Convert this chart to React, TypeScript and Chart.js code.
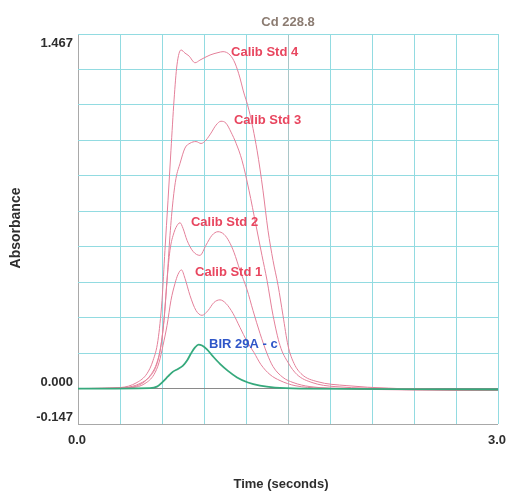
import React, { useEffect, useRef } from "react";
import { Chart, registerables } from "chart.js";

Chart.register(...registerables);

// ---- Data (time in seconds, absorbance) ----
const std4Time = [0, 0.3, 0.421, 0.493, 0.536, 0.571, 0.6, 0.621, 0.643, 0.664, 0.686, 0.707, 0.736, 0.764, 0.793, 0.836, 0.871, 0.943, 1.0, 1.036, 1.086, 1.121, 1.157, 1.179, 1.221, 1.279, 1.321, 1.357, 1.393, 1.429, 1.464, 1.5, 1.543, 1.6, 1.707, 1.921, 2.514, 3.0];
const std4Abs = [0, 0.004, 0.025, 0.062, 0.116, 0.199, 0.365, 0.572, 0.779, 0.986, 1.194, 1.339, 1.401, 1.388, 1.376, 1.348, 1.359, 1.38, 1.39, 1.394, 1.38, 1.347, 1.285, 1.235, 1.152, 0.986, 0.821, 0.655, 0.53, 0.427, 0.303, 0.178, 0.104, 0.058, 0.029, 0.012, -0.004, -0.008];

const std3Time = [0, 0.336, 0.443, 0.514, 0.557, 0.586, 0.614, 0.636, 0.657, 0.679, 0.7, 0.729, 0.764, 0.8, 0.843, 0.879, 0.914, 0.95, 0.986, 1.021, 1.057, 1.093, 1.129, 1.171, 1.221, 1.271, 1.314, 1.35, 1.393, 1.443, 1.5, 1.564, 1.671, 1.836, 2.3, 3.0];
const std3Abs = [0, 0.004, 0.021, 0.05, 0.091, 0.157, 0.282, 0.448, 0.634, 0.779, 0.87, 0.932, 0.995, 1.015, 1.022, 1.014, 1.028, 1.057, 1.09, 1.106, 1.098, 1.061, 1.015, 0.945, 0.821, 0.676, 0.551, 0.448, 0.303, 0.178, 0.108, 0.058, 0.025, 0.008, 0, -0.008];

const std2Time = [0, 0.357, 0.457, 0.521, 0.564, 0.593, 0.614, 0.636, 0.657, 0.686, 0.714, 0.729, 0.75, 0.779, 0.821, 0.871, 0.914, 0.957, 1.0, 1.043, 1.079, 1.114, 1.157, 1.207, 1.25, 1.3, 1.35, 1.393, 1.464, 1.536, 1.657, 1.943, 3.0];
const std2Abs = [0, 0.004, 0.021, 0.058, 0.108, 0.178, 0.282, 0.448, 0.572, 0.646, 0.68, 0.686, 0.663, 0.613, 0.568, 0.551, 0.593, 0.634, 0.649, 0.638, 0.609, 0.564, 0.489, 0.41, 0.323, 0.228, 0.145, 0.091, 0.046, 0.025, 0.008, 0, -0.008];

const std1Time = [0, 0.386, 0.479, 0.543, 0.579, 0.607, 0.636, 0.664, 0.693, 0.714, 0.739, 0.764, 0.8, 0.843, 0.886, 0.929, 0.971, 1.014, 1.057, 1.107, 1.157, 1.207, 1.257, 1.307, 1.371, 1.443, 1.55, 1.729, 3.0];
const std1Abs = [0, 0.004, 0.021, 0.058, 0.108, 0.178, 0.261, 0.365, 0.435, 0.472, 0.491, 0.456, 0.385, 0.323, 0.303, 0.323, 0.356, 0.367, 0.352, 0.311, 0.253, 0.195, 0.149, 0.099, 0.058, 0.033, 0.012, 0.002, -0.008];

const sampleTime = [0, 0.514, 0.564, 0.607, 0.643, 0.679, 0.714, 0.75, 0.779, 0.807, 0.836, 0.861, 0.886, 0.921, 0.964, 1.014, 1.071, 1.136, 1.214, 1.3, 1.407, 1.586, 3.0];
const sampleAbs = [0, 0.002, 0.008, 0.029, 0.05, 0.07, 0.081, 0.095, 0.116, 0.145, 0.17, 0.182, 0.178, 0.162, 0.133, 0.102, 0.073, 0.046, 0.025, 0.012, 0.004, 0, -0.004];

const seriesNames = ["Calib Std 4", "Calib Std 3", "Calib Std 2", "Calib Std 1", "BIR 29A - c"];
// label anchors in data units [time, absorbance]
const labelTimes = [1.093, 1.114, 0.807, 0.836, 0.936];
const labelAbs = [1.392, 1.108, 0.687, 0.482, 0.182];

const xGridTicks = [0, 0.3, 0.6, 0.9, 1.2, 1.5, 1.8, 2.1, 2.4, 2.7, 3.0];
const yGridTicks = [-0.1467, 0, 0.1467, 0.2934, 0.4401, 0.5868, 0.7335, 0.8802, 1.0269, 1.1736, 1.3203, 1.467];
const yLabelValues = [1.467, 0, -0.1467];
const yLabelTexts = ["1.467", "0.000", "-0.147"];
const xLabelValues = [0, 3.0];
const xLabelTexts = ["0.0", "3.0"];

const chartTitle = "Cd 228.8";
const xTitle = "Time (seconds)";
const yTitle = "Absorbance";

const FONT = '"Liberation Sans", Arial, sans-serif';
const RED_LINE = "#e4809a";
const RED_TEXT = "#e8465f";
const GREEN_LINE = "#36a97c";
const BLUE_TEXT = "#2f56c8";
const GRID = "#92dbe1";

function pts(t: number[], a: number[]) {
  return t.map((v, i) => ({ x: v, y: a[i] }));
}

const textPlugin = {
  id: "chartTexts",
  afterDraw(chart: any) {
    const { ctx, scales } = chart;
    const xs = scales.x;
    const ys = scales.y;
    ctx.save();
    ctx.font = `bold 13px ${FONT}`;
    // title
    ctx.fillStyle = "#8c7c72";
    ctx.textAlign = "center";
    ctx.textBaseline = "middle";
    ctx.fillText(chartTitle, (xs.left + xs.right) / 2, 22);
    // y tick labels
    ctx.fillStyle = "#2e2e2e";
    ctx.textAlign = "right";
    const yOffsets = [9, -6, -6.5];
    yLabelValues.forEach((v, i) => {
      ctx.fillText(yLabelTexts[i], xs.left - 5, ys.getPixelForValue(v) + yOffsets[i]);
    });
    // x tick labels
    ctx.textAlign = "center";
    xLabelValues.forEach((v, i) => {
      ctx.fillText(xLabelTexts[i], xs.getPixelForValue(v) - 1, ys.bottom + 16);
    });
    // x title
    ctx.fillText(xTitle, (xs.left + xs.right) / 2 - 7, ys.bottom + 60);
    // y title
    ctx.save();
    ctx.translate(16.5, (ys.top + ys.bottom) / 2 - 1);
    ctx.rotate(-Math.PI / 2);
    ctx.font = `bold 14px ${FONT}`;
    ctx.fillText(yTitle, 0, 0);
    ctx.restore();
    // series labels
    ctx.textAlign = "left";
    seriesNames.forEach((name, i) => {
      ctx.fillStyle = i === 4 ? BLUE_TEXT : RED_TEXT;
      ctx.fillText(name, xs.getPixelForValue(labelTimes[i]), ys.getPixelForValue(labelAbs[i]));
    });
    ctx.restore();
  },
};

export default function App() {
  const ref = useRef<HTMLCanvasElement | null>(null);
  useEffect(() => {
    if (!ref.current) return;
    const lineDs = (label: string, data: any[], color: string, width: number) => ({
      label,
      data,
      borderColor: color,
      backgroundColor: color,
      borderWidth: width,
      pointRadius: 0,
      fill: false,
      cubicInterpolationMode: "monotone" as const,
    });
    const chart = new Chart(ref.current, {
      type: "line",
      data: {
        datasets: [
          lineDs(seriesNames[4], pts(sampleTime, sampleAbs), GREEN_LINE, 1.8),
          lineDs(seriesNames[3], pts(std1Time, std1Abs), RED_LINE, 1),
          lineDs(seriesNames[2], pts(std2Time, std2Abs), RED_LINE, 1),
          lineDs(seriesNames[1], pts(std3Time, std3Abs), RED_LINE, 1),
          lineDs(seriesNames[0], pts(std4Time, std4Abs), RED_LINE, 1),
        ],
      },
      options: {
        animation: false,
        responsive: false,
        maintainAspectRatio: false,
        layout: { padding: { left: 78, top: 34, right: 10, bottom: 71 } },
        plugins: {
          legend: { display: false },
          title: { display: false },
          tooltip: { enabled: false },
        },
        scales: {
          x: {
            type: "linear",
            min: 0,
            max: 3.0,
            afterBuildTicks: (s: any) => {
              s.ticks = xGridTicks.map((v) => ({ value: v }));
            },
            ticks: { display: false },
            border: { display: false },
            grid: {
              drawTicks: false,
              lineWidth: 1,
              color: (c: any) => {
                const v = c.tick ? c.tick.value : null;
                if (v === 0) return "#a9a9a9";
                if (v === 1.5) return "#a9c6c8";
                return GRID;
              },
            },
          },
          y: {
            type: "linear",
            min: -0.1467,
            max: 1.467,
            afterBuildTicks: (s: any) => {
              s.ticks = yGridTicks.map((v) => ({ value: v }));
            },
            ticks: { display: false },
            border: { display: false },
            grid: {
              drawTicks: false,
              lineWidth: 1,
              color: (c: any) => {
                const v = c.tick ? c.tick.value : null;
                if (v === 0) return "#8a8a8a";
                if (v === -0.1467) return "#a8a8a8";
                return GRID;
              },
            },
          },
        },
      },
      plugins: [textPlugin],
    });
    return () => chart.destroy();
  }, []);
  return (
    <div style={{ position: "fixed", left: 0, top: 0, width: 508, height: 495, background: "#ffffff" }}>
      <canvas ref={ref} width={508} height={495} style={{ display: "block", width: 508, height: 495 }} />
    </div>
  );
}
